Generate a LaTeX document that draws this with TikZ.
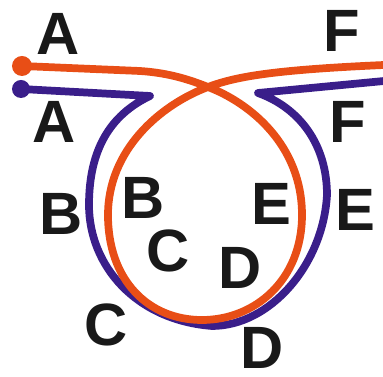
\documentclass[tikz,border=0pt]{standalone}
\usepackage{fontspec}
\setmainfont{Liberation Sans}
\definecolor{wireorange}{RGB}{232,78,22}
\definecolor{wireblue}{RGB}{58,30,138}

\begin{document}
\begin{tikzpicture}[x=0.02cm,y=-0.02cm,
                    wire/.style={line width=4.4pt,line join=round},
                    tag/.style={inner sep=0pt,text=black!90,
                                font=\fontsize{34}{40}\selectfont\bfseries}]
  \useasboundingbox (0,0) rectangle (383,377);
  % ends and corners of the two wires
  \coordinate (bluestart) at (21,89);
  \coordinate (bluebend) at (150,96);
  \coordinate (bluekink) at (258,93);
  \coordinate (blueend) at (384,81);
  \coordinate (redstart) at (22,66);
  \coordinate (twist) at (208,87);
  \coordinate (redend) at (384,65);
  % outer wire: a U that never crosses itself
  \draw[wire,wireblue] (bluestart) -- (bluebend)
    .. controls (110,115) and (89,150) .. (89,205)
    .. controls (89,265) and (135,320) .. (212,326)
    .. controls (270,326) and (323,265) .. (327,195)
    .. controls (327,145) and (300,108) .. (bluekink) -- (blueend);
  \fill[wireblue] (bluestart) circle (9);
  % inner wire: crosses itself at the top
  \draw[wire,wireorange] (redstart) -- (140,71)
    .. controls (170,73) and (190,80) .. (twist)
    .. controls (250,103) and (302,145) .. (302,215)
    .. controls (302,280) and (255,320) .. (202,320)
    .. controls (148,320) and (108,280) .. (108,215)
    .. controls (108,150) and (160,105) .. (twist)
    .. controls (235,77) and (270,70) .. (redend);
  \fill[wireorange] (redstart) circle (10);
  % letters, outer ring and inner ring
  \node[tag] (a1) at (58,34) {A};
  \node[tag] (a2) at (54,122) {A};
  \node[tag] (f1) at (342,31) {F};
  \node[tag] (f2) at (348,122) {F};
  \node[tag] (b1) at (61,214) {B};
  \node[tag] (b2) at (143,198) {B};
  \node[tag] (c2) at (168,251) {C};
  \node[tag] (c1) at (106,325) {C};
  \node[tag] (d2) at (240,268) {D};
  \node[tag] (d1) at (262,348) {D};
  \node[tag] (e2) at (271,204) {E};
  \node[tag] (e1) at (355,210) {E};
\end{tikzpicture}
\end{document}
